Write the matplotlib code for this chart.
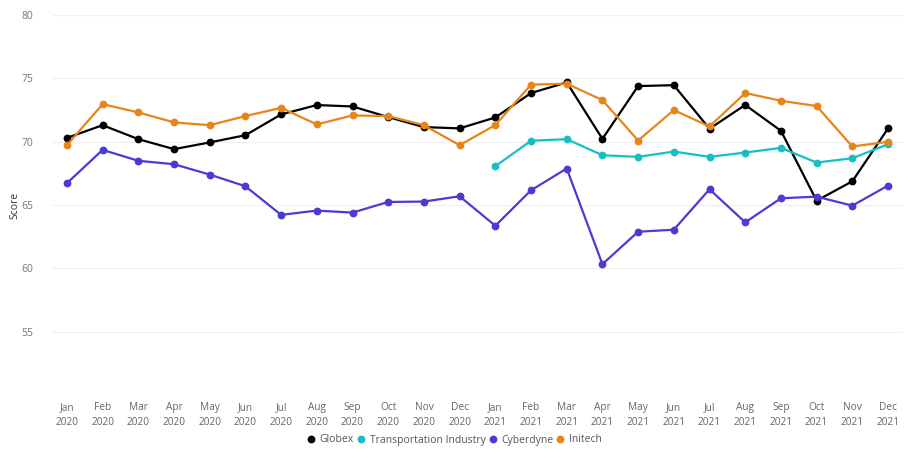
import matplotlib
matplotlib.use("Agg")
import matplotlib.pyplot as plt
import numpy as np

plt.rcParams['font.family'] = ['Open Sans', 'DejaVu Sans']

months = ["Jan", "Feb", "Mar", "Apr", "May", "Jun", "Jul", "Aug", "Sep", "Oct", "Nov", "Dec"]
tick_labels = [f"{m}\n{y}" for y in (2020, 2021) for m in months]

globex = [70.30, 71.30, 70.20, 69.41, 69.94, 70.51, 72.15, 72.89, 72.78, 71.94, 71.15, 71.05,
          71.91, 73.84, 74.68, 70.22, 74.39, 74.46, 71.02, 72.90, 70.86, 65.34, 66.87, 71.04]
transport = [None] * 12 + [68.06, 70.07, 70.20, 68.93, 68.80, 69.22, 68.80, 69.14, 69.51, 68.35, 68.69, 69.80]
cyberdyne = [66.72, 69.35, 68.49, 68.22, 67.40, 66.48, 64.22, 64.56, 64.40, 65.24, 65.27, 65.69,
             63.36, 66.16, 67.88, 60.33, 62.89, 63.05, 66.24, 63.63, 65.53, 65.66, 64.95, 66.53]
initech = [69.72, 72.96, 72.31, 71.52, 71.30, 72.02, 72.67, 71.36, 72.07, 72.02, 71.30, 69.72,
           71.31, 74.50, 74.58, 73.28, 70.09, 72.49, 71.20, 73.84, 73.23, 72.81, 69.62, 69.99]

series = [("Globex", globex, "#000000"),
          ("Transportation Industry", transport, "#16BFC4"),
          ("Cyberdyne", cyberdyne, "#4B3BD6"),
          ("Initech", initech, "#E8851A")]

fig = plt.figure(figsize=(9.15, 4.58), dpi=100)
ax = fig.add_axes([53/915, 1 - 395/458, 850/915, 380/458])

x = np.arange(len(tick_labels))
for name, vals, col in series:
    y = np.array([np.nan if v is None else v for v in vals], dtype=float)
    ax.plot(x, y, color=col, lw=1.6, marker='o', ms=4.6, label=name, zorder=3)

ax.set_ylim(50, 80)
ax.set_xlim(-0.39, 23.42)
ax.set_yticks([55, 60, 65, 70, 75, 80])
ax.set_xticks(x)
ax.set_xticklabels(tick_labels, fontsize=7.3, color="#666666", linespacing=1.45)
ax.tick_params(axis='y', labelsize=7.5, labelcolor="#777777", length=0, pad=14)
ax.tick_params(axis='x', length=0, pad=5)
ax.grid(axis='y', color="#F0F0F0", lw=0.9)
ax.set_axisbelow(True)
for s in ax.spines.values():
    s.set_visible(False)

fig.text(15/915, 1 - 205/458, "Score", rotation=90, ha='center', va='center',
         fontsize=7.5, color="#333333")

leg = fig.legend(loc='center', bbox_to_anchor=(455/915, 1 - 440/458), ncol=4, frameon=False,
                 fontsize=7.5, handlelength=0.6, handletextpad=0.5, columnspacing=0.4,
                 markerscale=1.0)
for h in leg.legend_handles:
    h.set_linestyle('none')
for t in leg.get_texts():
    t.set_color("#555555")

fig.savefig("out.png", dpi=100)
